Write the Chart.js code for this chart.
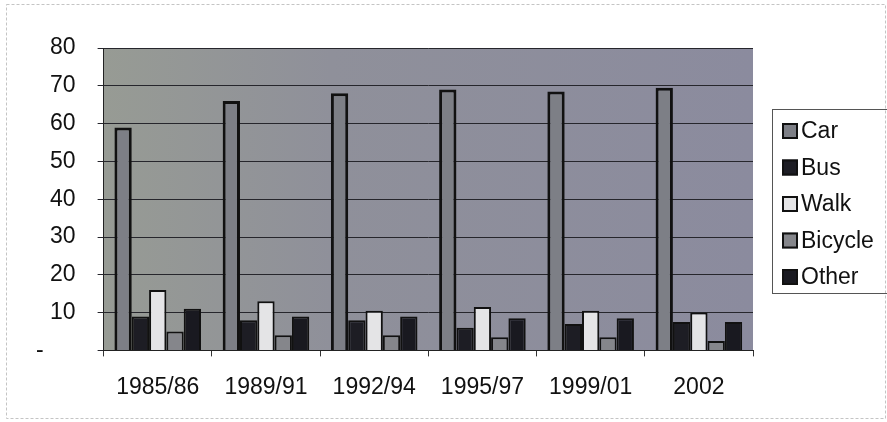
<!DOCTYPE html>
<html>
<head>
<meta charset="utf-8">
<script src="https://cdn.jsdelivr.net/npm/chart.js@4/dist/chart.umd.min.js"></script>
<style>
  html, body { margin: 0; padding: 0; background: #fff; }
  #wrap { width: 887px; height: 422px; position: relative; }
</style>
</head>
<body>
<div id="wrap"><canvas id="modeChart"></canvas></div>
<script>
// survey periods
const periods = ['1985/86', '1989/91', '1992/94', '1995/97', '1999/01', '2002'];

// share of trips by mode (%)
const car     = [59, 66, 68, 69, 68.5, 69.5];
const bus     = [9, 8, 8, 6, 7, 7.5];
const walk    = [16, 13, 10.5, 11.5, 10.5, 10];
const bicycle = [5, 4, 4, 3.5, 3.5, 2.5];
const other   = [11, 9, 9, 8.5, 8.5, 7.5];

const yTicks = [0, 10, 20, 30, 40, 50, 60, 70, 80];

const FONT = "'Liberation Sans', Arial, sans-serif";

function bar(label, data, fill, border) {
    return {
        label,
        data,
        backgroundColor: fill,
        borderColor: '#111',
        borderWidth: border,
        borderSkipped: 'start',
    };
}

// grey plot area + light frame round the whole figure
const backdrop = {
    id: 'backdrop',
    beforeDraw(chart) {
        const { ctx, chartArea: a, width, height } = chart;
        ctx.save();
        ctx.fillStyle = '#fff';
        ctx.fillRect(0, 0, width, height);
        const g = ctx.createLinearGradient(a.left, 0, a.right, 0);
        g.addColorStop(0, '#979b94');
        g.addColorStop(0.35, '#8f909a');
        g.addColorStop(1, '#8b8b9e');
        ctx.fillStyle = g;
        ctx.fillRect(a.left, a.top, a.right - a.left, a.bottom - a.top);
        ctx.strokeStyle = '#c4c4c4';
        ctx.lineWidth = 1;
        ctx.setLineDash([3, 2]);
        ctx.strokeRect(6.5, 4.5, width - 8, height - 8);
        ctx.restore();
    }
};

// boxed legend to the right of the plot
const sideLegend = {
    id: 'sideLegend',
    afterDraw(chart) {
        const { ctx, chartArea: a } = chart;
        const x = a.right + 19;
        const top = 109;
        ctx.save();
        ctx.strokeStyle = '#555';
        ctx.lineWidth = 1;
        ctx.strokeRect(x + 0.5, top + 0.5, 130, 184);
        ctx.font = '23px ' + FONT;
        ctx.textBaseline = 'middle';
        chart.data.datasets.forEach((ds, i) => {
            const cy = top + 22 + i * 36.5;
            ctx.fillStyle = ds.backgroundColor;
            ctx.fillRect(x + 10, cy - 8, 16, 16);
            ctx.strokeStyle = '#111';
            ctx.lineWidth = 2;
            ctx.strokeRect(x + 11, cy - 7, 14, 14);
            ctx.fillStyle = '#111';
            ctx.fillText(ds.label, x + 29, cy + 1);
        });
        ctx.restore();
    }
};

new Chart(document.getElementById('modeChart'), {
    type: 'bar',
    data: {
        labels: periods,
        datasets: [
            bar('Car', car, '#7d7f86', 3),
            bar('Bus', bus, '#1d1d24', 2),
            bar('Walk', walk, '#e4e4e6', 2),
            bar('Bicycle', bicycle, '#85868b', 2),
            bar('Other', other, '#191920', 2),
        ],
    },
    options: {
        responsive: true,
        maintainAspectRatio: false,
        animation: false,
        layout: { padding: { left: 14, top: 48, right: 134, bottom: 4 } },
        datasets: { bar: { categoryPercentage: 0.8, barPercentage: 1.0 } },
        plugins: {
            legend: { display: false },
            tooltip: { enabled: false },
        },
        scales: {
            x: {
                offset: true,
                grid: {
                    offset: true,
                    drawOnChartArea: false,
                    drawTicks: true,
                    tickLength: 6,
                    color: '#333',
                },
                border: { display: true, color: '#222', width: 1 },
                ticks: {
                    color: '#111',
                    font: { family: FONT, size: 23 },
                    padding: 17,
                    maxRotation: 0,
                },
            },
            y: {
                min: 0,
                max: 80,
                afterBuildTicks: axis => { axis.ticks = yTicks.map(v => ({ value: v })); },
                grid: {
                    color: '#26262c',
                    lineWidth: 1,
                    drawTicks: true,
                    tickLength: 6,
                },
                border: { display: true, color: '#222', width: 1 },
                ticks: {
                    color: '#111',
                    font: { family: FONT, size: 23 },
                    padding: 22,
                    callback: v => (v === 0 ? '-     ' : String(v)),
                },
            },
        },
    },
    plugins: [backdrop, sideLegend],
});
</script>
</body>
</html>
